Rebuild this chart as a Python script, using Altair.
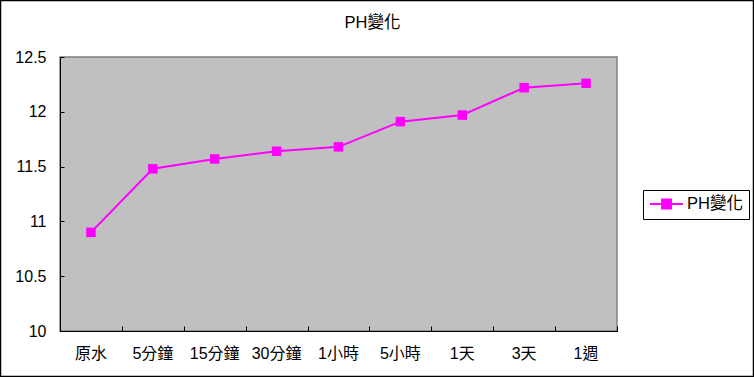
import altair as alt
import pandas as pd

categories = ["原水", "5分鐘", "15分鐘", "30分鐘", "1小時", "5小時", "1天", "3天", "1週"]
ph_values = [10.90, 11.48, 11.57, 11.64, 11.68, 11.91, 11.97, 12.22, 12.26]
series_name = "PH變化"
y_ticks = [10, 10.5, 11, 11.5, 12, 12.5]

df = pd.DataFrame({"time": categories, "ph": ph_values, "series": [series_name] * len(categories)})

FONT = "Arial, Liberation Sans, Noto Sans CJK TC"
MAGENTA = "#FF00FF"
FS = 16

xscale = alt.Scale(type="band", paddingInner=0, paddingOuter=0)
yscale = alt.Scale(domain=[10, 12.5], nice=False, zero=False)

base = alt.Chart(df)

line = base.mark_line(color=MAGENTA, strokeWidth=2).encode(
    x=alt.X("time:N", sort=categories, scale=xscale,
            axis=alt.Axis(title=None, orient="bottom", labelAngle=0, ticks=False, domain=True,
                          domainColor="#000000", labelFont=FONT, labelFontSize=FS, labelColor="#000000",
                          labelPadding=14, grid=False)),
    y=alt.Y("ph:Q", scale=yscale,
            axis=alt.Axis(title=None, orient="left", values=y_ticks, ticks=False, domain=True,
                          domainColor="#000000", labelFont=FONT, labelFontSize=FS, labelColor="#000000",
                          labelPadding=14, grid=False, labelExpr="datum.value")),
)

pts = base.mark_point(shape="square", filled=True, size=90, opacity=1).encode(
    x=alt.X("time:N", sort=categories, scale=xscale,
            axis=alt.Axis(title=None, orient="bottom", labels=False, domain=False, ticks=True,
                          tickBand="extent", tickSize=5, offset=-5, tickColor="#000000", grid=False)),
    y=alt.Y("ph:Q", scale=yscale,
            axis=alt.Axis(title=None, orient="left", labels=False, domain=False, ticks=True,
                          values=y_ticks, tickSize=4, offset=-4, tickColor="#000000", grid=False)),
    color=alt.Color("series:N", scale=alt.Scale(range=[MAGENTA]),
                    legend=alt.Legend(title=None, orient="none", legendX=583, legendY=133,
                                      strokeColor="#000000", padding=6, clipHeight=16,
                                      symbolType="M-1,0H1M-0.27,-0.27H0.27V0.27H-0.27Z",
                                      symbolSize=1089, symbolStrokeWidth=2,
                                      symbolStrokeColor=MAGENTA, symbolFillColor=MAGENTA,
                                      labelFont=FONT, labelFontSize=16.5, labelColor="#000000",
                                      labelOffset=3)),
)

frame = alt.Chart(pd.DataFrame({"a": [0]})).mark_rect(fill=None, stroke="#000000", strokeWidth=1.5).encode(
    x=alt.value(-59.5), x2=alt.value(693.5), y=alt.value(-56.5), y2=alt.value(319.5)
)

chart = alt.layer(line, pts, frame).resolve_axis(x="independent", y="independent").properties(
    width=557, height=274,
    background="#FFFFFF",
    title=alt.TitleParams(series_name, font=FONT, fontSize=16.5, fontWeight="normal", color="#000000",
                          anchor="middle", frame="group", dx=34, offset=0, dy=32),
    autosize=alt.AutoSizeParams(type="none"),
    padding={"left": 60, "top": 57, "right": 137, "bottom": 46},
).configure_view(fill="#C0C0C0", stroke="#808080", strokeWidth=1.5)

chart.save("out.html", embed_options={"renderer": "svg", "actions": False})
